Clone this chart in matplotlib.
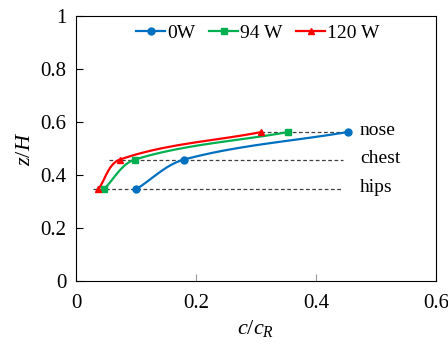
import numpy as np
import matplotlib.pyplot as plt

plt.rcParams['font.family'] = ['Liberation Serif', 'DejaVu Serif']
plt.rcParams['mathtext.fontset'] = 'custom'
plt.rcParams['mathtext.it'] = 'Liberation Serif:italic'
plt.rcParams['mathtext.rm'] = 'Liberation Serif'

# data
z_levels = [0.347, 0.459, 0.563]
c_0w = [0.100, 0.180, 0.453]
c_94w = [0.046, 0.098, 0.354]
c_120w = [0.037, 0.073, 0.309]
labels = ['0W', '94 W', '120 W']
colors = ['#0070C0', '#00B050', '#FF0000']
markers = ['o', 's', '^']

# reference lines
ref_names = ['hips', 'chest', 'nose']
ref_x0 = [0.028, 0.055, 0.309]
ref_x1 = [0.445, 0.445, 0.453]


def smooth(x, y, n=40, sx=600.0, sy=265.0):
    # chord-length catmull-rom, done in screen-like units
    P = np.column_stack([np.asarray(x, float) * sx, np.asarray(y, float) * sy])
    k = len(P)
    tang = np.zeros_like(P)
    for i in range(k):
        a = P[max(i - 1, 0)]
        b = P[min(i + 1, k - 1)]
        d = np.linalg.norm(b - a)
        tang[i] = (b - a) / d if d > 0 else 0
    t = np.linspace(0, 1, n)[:, None]
    segs = []
    for i in range(k - 1):
        p1, p2 = P[i], P[i + 1]
        L = np.linalg.norm(p2 - p1) / 3
        c1 = p1 + tang[i] * L
        c2 = p2 - tang[i + 1] * L
        segs.append((1 - t) ** 3 * p1 + 3 * (1 - t) ** 2 * t * c1
                    + 3 * (1 - t) * t ** 2 * c2 + t ** 3 * p2)
    S = np.vstack(segs)
    return S[:, 0] / sx, S[:, 1] / sy


fig, ax = plt.subplots(figsize=(4.48, 3.45), dpi=100)
fig.subplots_adjust(left=0.17, right=0.973, top=0.953, bottom=0.185)

for lv, a, b in zip(z_levels, ref_x0, ref_x1):
    ax.plot([a, b], [lv, lv], color='#404040', ls=(0, (3, 2)), lw=0.9, zorder=1)
for lv, name in zip(z_levels, ref_names):
    ax.text(0.473, lv + 0.005, name, fontsize=14, va='center', ha='left')

for c, lab, col, mk in zip([c_0w, c_94w, c_120w], labels, colors, markers):
    sx, sy = smooth(c, z_levels)
    ax.plot(sx, sy, color=col, lw=1.6, zorder=2)
    ax.plot(c, z_levels, color=col, lw=1.6, marker=mk, ms=5,
            ls='none', zorder=3)
    ax.plot([], [], color=col, lw=1.6, marker=mk, ms=5, label=lab)

ax.set_xlim(0, 0.6)
ax.set_ylim(0, 1)
ax.set_xticks([0, 0.2, 0.4, 0.6])
ax.set_xticklabels(['0', '0.2', '0.4', '0.6'])
ax.set_yticks([0, 0.2, 0.4, 0.6, 0.8, 1.0])
ax.set_yticklabels(['0', '0.2', '0.4', '0.6', '0.8', '1'])
ax.tick_params(direction='in', labelsize=15, length=5, pad=7)
ax.tick_params(axis='x', colors='#999999', labelcolor='black', pad=9)
ax.set_xlabel(r'$c/c_R$', fontsize=16, labelpad=4)
ax.set_ylabel(r'$z/H$', fontsize=16, labelpad=4)

ax.legend(loc='upper center', ncol=3, frameon=False, fontsize=14,
          handlelength=1.5, handletextpad=0.1, columnspacing=0.7,
          borderaxespad=0.0, bbox_to_anchor=(0.505, 1.0))

plt.savefig('out.png', dpi=100)
